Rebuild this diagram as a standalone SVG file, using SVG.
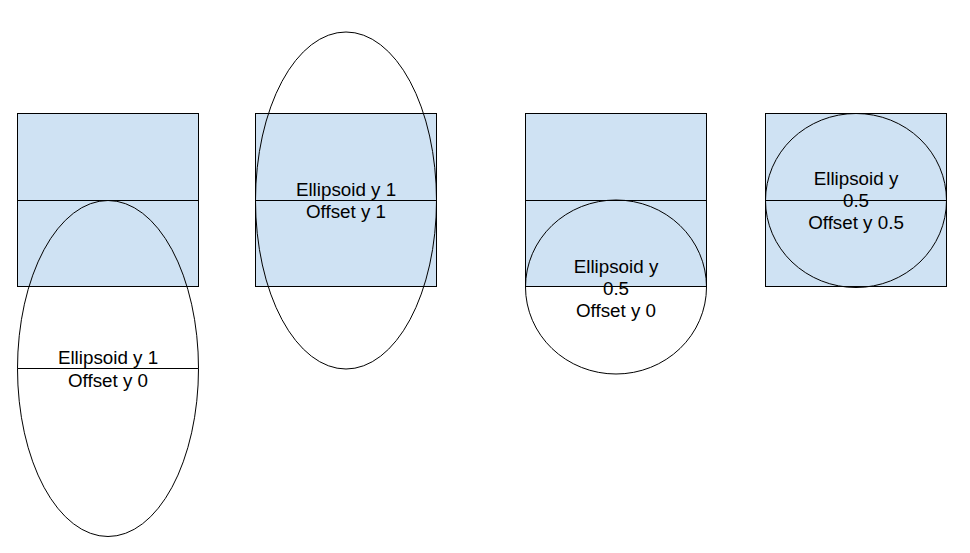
<svg xmlns="http://www.w3.org/2000/svg" width="970" height="553" viewBox="0 0 970 553">
<style>
.box{fill:#cfe2f3;stroke:#000;stroke-width:1}
.ln{stroke:#000;stroke-width:1;fill:none}
.el{fill:none;stroke:#000;stroke-width:1}
text{font-family:"Liberation Sans",Arial,sans-serif;font-size:18.8px;fill:#000;text-anchor:middle}
</style>
<rect width="970" height="553" fill="#fff"/>
<g id="box1">
<rect class="box" x="17.5" y="113.5" width="181" height="173"/>
<line class="ln" x1="17.5" y1="200.5" x2="198.5" y2="200.5"/>
</g>
<g id="box2">
<rect class="box" x="255.5" y="113.5" width="181" height="173"/>
<line class="ln" x1="255.5" y1="200.5" x2="436.5" y2="200.5"/>
</g>
<g id="box3">
<rect class="box" x="525.5" y="113.5" width="181" height="173"/>
<line class="ln" x1="525.5" y1="200.5" x2="706.5" y2="200.5"/>
</g>
<g id="box4">
<rect class="box" x="765.5" y="113.5" width="181" height="173"/>
<line class="ln" x1="765.5" y1="200.5" x2="946.5" y2="200.5"/>
</g>
<g id="ellipse1">
<ellipse class="el" cx="108" cy="368.5" rx="90.5" ry="168"/>
<line class="ln" x1="17.5" y1="368.5" x2="198.5" y2="368.5"/>
<text x="108" y="364">Ellipsoid y 1</text>
<text x="108" y="386.5">Offset y 0</text>
</g>
<g id="ellipse2">
<ellipse class="el" cx="346" cy="200.5" rx="90.5" ry="168.5"/>
<text x="346" y="195.5">Ellipsoid y 1</text>
<text x="346" y="218">Offset y 1</text>
</g>
<g id="ellipse3">
<ellipse class="el" cx="616" cy="287" rx="90.5" ry="87"/>
<text x="616" y="272.5">Ellipsoid y</text>
<text x="616" y="294.5">0.5</text>
<text x="616" y="316.5">Offset y 0</text>
</g>
<g id="ellipse4">
<ellipse class="el" cx="856" cy="200.5" rx="90.5" ry="87"/>
<text x="856" y="185">Ellipsoid y</text>
<text x="856" y="207">0.5</text>
<text x="856" y="229">Offset y 0.5</text>
</g>
<g id="connectors"></g>
</svg>
